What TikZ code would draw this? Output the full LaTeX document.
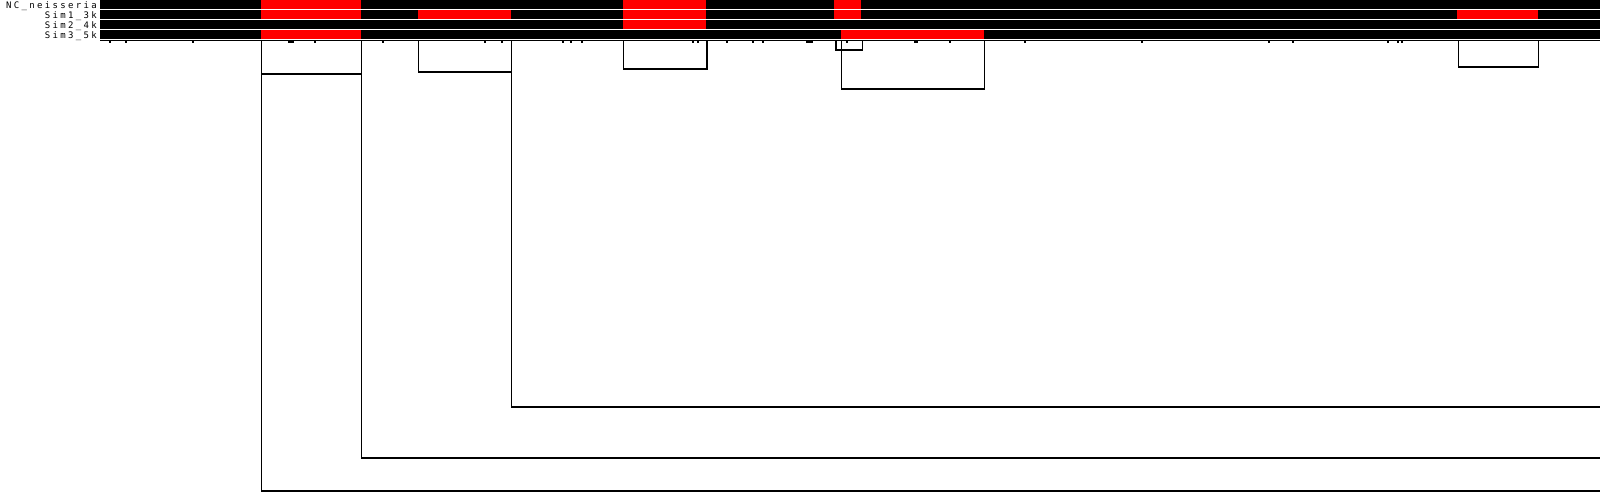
\documentclass[tikz,border=0pt]{standalone}
\usepackage{fontspec}
\newfontfamily\trackfont[LetterSpace=26]{DejaVu Sans Mono}
\tikzset{
  % one black track per sequence
  trackrow/.style={fill=black, draw=none},
  % red matching segment
  hitseg/.style={fill=red, draw=none},
  tracklabel/.style={
    anchor=base east, inner sep=0pt,
    font=\trackfont\fontsize{9}{10}\selectfont
  },
  % join lines below the tracks
  bracket/.style={draw=black, line width=1.1pt},
  tickmark/.style={draw=black, line width=1.2pt},
}

\begin{document}
\begin{tikzpicture}[x=1pt, y=-1pt]
  \useasboundingbox (0,0) rectangle (1600,496);

  %% ── Labels ──
  \node[tracklabel] (lblNC)   at (97,8)  {NC\_neisseria};
  \node[tracklabel] (lblSim1) at (97,18) {Sim1\_3k};
  \node[tracklabel] (lblSim2) at (97,28) {Sim2\_4k};
  \node[tracklabel] (lblSim3) at (97,38) {Sim3\_5k};

  %% ── Tracks ──
  \foreach \r in {0,...,3}
    \fill[trackrow] (100,\r*10) rectangle (1600,\r*10+9);

  %% ── Matching segments (row / start / end) ──
  \foreach \r/\a/\b in {0/261/361, 0/623/706, 0/834/861,
                        1/261/361, 1/418/511, 1/623/706, 1/834/861, 1/1457/1538,
                        2/623/706,
                        3/261/361, 3/841/984}
    \fill[hitseg] (\a,\r*10) rectangle (\b,\r*10+9);

  %% ── Axis and ticks ──
  \draw[line width=1pt] (100,40.5) -- (1600,40.5);
  \foreach \t in {110,126,193,315,383,485,502,563,571,582,693,698,727,753,763,
                  847,915,917,950,1025,1142,1269,1293,1388,1398,1402}
    \draw[tickmark] (\t,40.5) -- (\t,43);
  \draw[tickmark] (289,40.5) -- (289,43) (288,42) -- (294,42);
  \draw[tickmark] (807,40.5) -- (807,43) (806,42) -- (813,42);

  %% ── Brackets ──
  \draw[bracket] (261.5,40.5) -- (261.5,491) -- (1600,491);
  \draw[bracket] (361.5,40.5) -- (361.5,458) -- (1600,458);
  \draw[bracket] (511.5,40.5) -- (511.5,407) -- (1600,407);
  \draw[bracket] (261.5,74) -- (361.5,74);
  \draw[bracket] (418.5,40.5) -- (418.5,72) -- (511.5,72);
  \draw[bracket] (623.5,40.5) -- (623.5,69) -- (707,69) -- (707,40.5);
  \draw[bracket] (836,40.5) -- (836,50) -- (862.5,50) -- (862.5,40.5);
  \draw[bracket] (841.5,40.5) -- (841.5,89) -- (984.5,89) -- (984.5,40.5);
  \draw[bracket] (1458.5,40.5) -- (1458.5,67) -- (1538.5,67) -- (1538.5,40.5);

\end{tikzpicture}
\end{document}
